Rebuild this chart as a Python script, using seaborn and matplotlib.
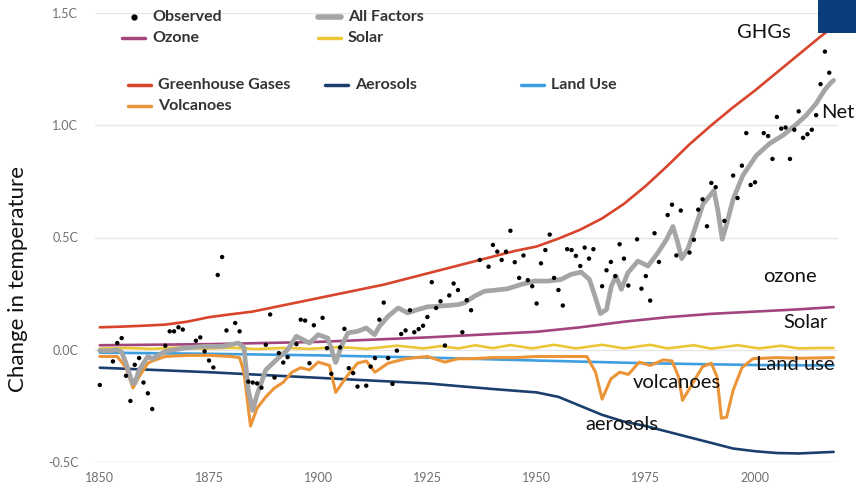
import numpy as np
import pandas as pd
import matplotlib
matplotlib.use("Agg")
import matplotlib.pyplot as plt
from matplotlib.lines import Line2D
from matplotlib.patches import Rectangle
import seaborn as sns

sns.set_theme(style="white")
plt.rcParams["font.family"] = ["Lato", "DejaVu Sans"]

# ── data ─────────────────────────────────────────────────────────────────────
obs_years = [1850, 1853, 1854, 1855, 1856, 1857, 1858, 1859, 1860, 1861, 1862,
             1865, 1866, 1867, 1868, 1869, 1872, 1873, 1874, 1875, 1876, 1877,
             1878, 1879, 1881, 1882, 1884, 1885, 1886, 1887, 1888, 1889, 1890,
             1891, 1892, 1893, 1895, 1896, 1897, 1898, 1899, 1901, 1902, 1903,
             1905, 1906, 1907, 1908, 1909, 1911, 1912, 1913, 1914, 1915, 1916,
             1917, 1918, 1919, 1920, 1921, 1922, 1923, 1924, 1925, 1926, 1927,
             1928, 1929, 1930, 1931, 1932, 1933, 1934, 1935, 1937, 1939, 1940,
             1941, 1942, 1943, 1944, 1945, 1946, 1947, 1948, 1949, 1950, 1951,
             1952, 1953, 1954, 1955, 1956, 1957, 1958, 1959, 1960, 1961, 1962,
             1963, 1965, 1966, 1967, 1968, 1969, 1970, 1971, 1973, 1974, 1975,
             1976, 1977, 1978, 1980, 1981, 1982, 1983, 1985, 1986, 1987, 1988,
             1989, 1990, 1991, 1993, 1995, 1996, 1997, 1998, 1999, 2000, 2002,
             2003, 2004, 2005, 2006, 2007, 2008, 2009, 2010, 2011, 2012, 2013,
             2014, 2015, 2016, 2017]
obs_vals = [-0.157, -0.052, 0.030, 0.052, -0.116, -0.228, -0.067, -0.037, -0.146, -0.194, -0.264,
            0.018, 0.082, 0.082, 0.100, 0.090, 0.040, 0.055, -0.007, -0.048, -0.079, 0.333,
            0.413, 0.086, 0.119, 0.082, -0.142, -0.146, -0.150, -0.169, 0.022, 0.157, -0.124,
            -0.015, -0.057, -0.033, 0.025, 0.134, 0.130, -0.060, 0.109, 0.142, 0.007, -0.107,
            0.010, 0.093, -0.082, -0.104, -0.164, -0.160, -0.075, -0.037, 0.134, 0.210, -0.037,
            -0.152, -0.004, 0.070, 0.086, 0.176, 0.078, 0.092, 0.107, 0.146, 0.301, 0.186,
            0.216, 0.019, 0.242, 0.295, 0.266, 0.078, 0.221, 0.176, 0.400, 0.370, 0.467,
            0.437, 0.400, 0.437, 0.530, 0.390, 0.320, 0.420, 0.310, 0.283, 0.206, 0.385,
            0.444, 0.513, 0.320, 0.266, 0.197, 0.448, 0.444, 0.418, 0.373, 0.455, 0.406,
            0.448, 0.283, 0.354, 0.391, 0.328, 0.470, 0.406, 0.286, 0.492, 0.272, 0.328,
            0.219, 0.519, 0.391, 0.600, 0.646, 0.420, 0.620, 0.433, 0.490, 0.624, 0.670,
            0.550, 0.743, 0.724, 0.574, 0.776, 0.676, 0.820, 0.965, 0.734, 0.746, 0.965,
            0.952, 0.850, 1.037, 0.985, 0.990, 0.850, 0.980, 1.062, 0.944, 0.960, 0.980,
            1.045, 1.183, 1.328, 1.234]

all_years = [1850, 1852, 1854, 1855, 1856, 1857.5, 1858, 1859, 1861, 1862, 1865,
             1869.5, 1874, 1878, 1881.7, 1883, 1884, 1885, 1886, 1888, 1890.4, 1893,
             1895, 1896.5, 1898, 1900, 1902.2, 1904, 1905.3, 1906.8, 1909, 1911,
             1912.9, 1914, 1916, 1918.3, 1920.5, 1922.8, 1925, 1927.4, 1929.7, 1932,
             1933.5, 1935.8, 1938.1, 1940.4, 1943.4, 1946.5, 1949.5, 1952.6, 1955.6,
             1957.9, 1960.2, 1962.1, 1963.5, 1964.6, 1966, 1967.1, 1968.2, 1969.4,
             1970.9, 1973.2, 1975.5, 1977.8, 1979.7, 1981.2, 1982.3, 1983.2, 1984.6,
             1986.2, 1988.1, 1990.6, 1991.5, 1992.5, 1993.4, 1995, 1997.2, 2000.3,
             2003.3, 2006.4, 2009.4, 2011.7, 2014, 2015.9, 2017.2, 2018]
all_vals = [-0.003, -0.005, 0.0, -0.01, -0.06, -0.15, -0.149, -0.09, -0.03, -0.04, -0.007,
            0.008, 0.015, 0.015, 0.03, 0.01, -0.18, -0.27, -0.2, -0.09, -0.045, 0.0,
            0.06, 0.045, 0.03, 0.067, 0.052, -0.057, 0.015, 0.075, 0.082, 0.097,
            0.067, 0.104, 0.149, 0.186, 0.164, 0.179, 0.191, 0.194, 0.197, 0.201,
            0.209, 0.239, 0.261, 0.265, 0.272, 0.291, 0.306, 0.306, 0.313,
            0.336, 0.346, 0.313, 0.23, 0.161, 0.179, 0.283, 0.328, 0.269,
            0.343, 0.395, 0.373, 0.433, 0.49, 0.549, 0.478, 0.406, 0.448,
            0.537, 0.649, 0.709, 0.62, 0.492, 0.552, 0.671, 0.776, 0.865,
            0.918, 0.955, 1.003, 1.044, 1.097, 1.156, 1.186, 1.20]

ghg_years = [1850, 1855, 1860, 1865, 1870, 1875, 1880, 1885, 1890, 1895, 1900, 1905,
             1910, 1915, 1920, 1925, 1930, 1935, 1940, 1945, 1950, 1955, 1960, 1965,
             1970, 1975, 1980, 1985, 1990, 1995, 2000, 2005, 2010, 2015, 2018]
ghg_vals = [0.10, 0.103, 0.107, 0.112, 0.125, 0.145, 0.158, 0.17, 0.19, 0.21, 0.23, 0.25,
            0.27, 0.29, 0.315, 0.34, 0.365, 0.39, 0.415, 0.44, 0.46, 0.495, 0.535, 0.585,
            0.65, 0.73, 0.82, 0.915, 1.0, 1.08, 1.155, 1.235, 1.315, 1.395, 1.44]

ozone_years = [1850, 1875, 1900, 1925, 1950, 1960, 1970, 1980, 1990, 2000, 2010, 2018]
ozone_vals = [0.02, 0.025, 0.035, 0.055, 0.08, 0.10, 0.125, 0.145, 0.16, 0.17, 0.18, 0.19]

solar_years = [1850, 1856, 1862, 1868, 1874, 1880, 1886, 1892, 1898, 1905, 1911, 1918,
               1924, 1928, 1932, 1936, 1940, 1944, 1949, 1954, 1959, 1965, 1970, 1976,
               1980, 1986, 1990, 1996, 2001, 2006, 2010, 2015, 2018]
solar_vals = [0.005, 0.008, 0.004, 0.01, 0.005, 0.009, 0.003, 0.008, 0.004, 0.012, 0.004, 0.018,
              0.006, 0.016, 0.006, 0.02, 0.007, 0.021, 0.006, 0.022, 0.006, 0.022, 0.006,
              0.022, 0.006, 0.02, 0.005, 0.02, 0.006, 0.018, 0.006, 0.008, 0.008]

land_years = [1850, 1875, 1900, 1925, 1950, 1975, 2000, 2018]
land_vals = [-0.013, -0.018, -0.025, -0.035, -0.048, -0.06, -0.068, -0.07]

aer_years = [1850, 1875, 1900, 1925, 1940, 1950, 1955, 1960, 1965, 1970, 1975, 1980,
             1985, 1990, 1995, 2000, 2005, 2010, 2018]
aer_vals = [-0.08, -0.10, -0.125, -0.15, -0.175, -0.19, -0.21, -0.25, -0.29, -0.32, -0.34,
            -0.365, -0.39, -0.415, -0.44, -0.452, -0.46, -0.462, -0.455]

volc_years = [1850, 1854, 1856, 1857.6, 1859, 1861, 1862, 1865, 1870, 1875, 1880, 1882,
              1883, 1884.5, 1886, 1888, 1890, 1892, 1894, 1896, 1898, 1900, 1902.6, 1904,
              1906.5, 1909, 1911, 1913, 1916, 1920, 1925, 1929, 1932, 1935, 1940, 1945,
              1950, 1955, 1961.5, 1963.5, 1965, 1967, 1969, 1971, 1973.5, 1976, 1979, 1981,
              1982.5, 1983.4, 1985.7, 1988, 1990, 1991.3, 1992.3, 1993.5, 1995, 1997,
              1999.5, 2005, 2010, 2018]
volc_vals = [-0.03, -0.03, -0.08, -0.17, -0.12, -0.06, -0.05, -0.03, -0.025, -0.025, -0.03, -0.035,
             -0.1, -0.34, -0.26, -0.21, -0.17, -0.145, -0.1, -0.08, -0.09, -0.055, -0.07, -0.19,
             -0.12, -0.06, -0.05, -0.1, -0.06, -0.04, -0.03, -0.055, -0.04, -0.04, -0.035, -0.035,
             -0.03, -0.03, -0.03, -0.1, -0.22, -0.13, -0.1, -0.11, -0.055, -0.07, -0.045, -0.05,
             -0.12, -0.225, -0.15, -0.075, -0.06, -0.12, -0.305, -0.3, -0.18, -0.08,
             -0.04, -0.035, -0.038, -0.035]

y_ticks = [-0.5, 0.0, 0.5, 1.0, 1.5]
y_ticklabels = ["-0.5C", "0.0C", "0.5C", "1.0C", "1.5C"]
x_ticks = [1850, 1875, 1900, 1925, 1950, 1975, 2000]

C_GHG = "#d8442c"
C_OZONE = "#a2457f"
C_SOLAR = "#ebc634"
C_LAND = "#3d9ee0"
C_AER = "#1b3f6d"
C_VOLC = "#ec9538"
C_ALL = "#a5a5a5"

# ── figure ───────────────────────────────────────────────────────────────────
fig = plt.figure(figsize=(8.56, 4.91), dpi=100)
ax = fig.add_axes([95 / 856, 1 - 462 / 491, 743 / 856, 449 / 491])

for y in y_ticks:
    ax.axhline(y, color="#ccd6eb" if y == -0.5 else "#e6e6e6", lw=1.0, zorder=0)

sns.lineplot(x=ghg_years, y=ghg_vals, color=C_GHG, lw=1.9, ax=ax, zorder=3)
sns.lineplot(x=ozone_years, y=ozone_vals, color=C_OZONE, lw=1.9, ax=ax, zorder=3)
sns.lineplot(x=solar_years, y=solar_vals, color=C_SOLAR, lw=1.9, ax=ax, zorder=3)
sns.lineplot(x=land_years, y=land_vals, color=C_LAND, lw=1.9, ax=ax, zorder=3)
sns.lineplot(x=aer_years, y=aer_vals, color=C_AER, lw=1.9, ax=ax, zorder=3)
sns.lineplot(x=volc_years, y=volc_vals, color=C_VOLC, lw=2.2, ax=ax, zorder=4)
sns.lineplot(x=all_years, y=all_vals, color=C_ALL, lw=3.4, ax=ax, zorder=5)
sns.scatterplot(x=obs_years, y=obs_vals, color="black", s=10, edgecolor="none", ax=ax, zorder=6)

ax.set_xlim(1848.9, 2019)
ax.set_ylim(-0.5, 1.5)
ax.set_yticks(y_ticks)
ax.set_yticklabels(y_ticklabels)
ax.set_xticks(x_ticks)
ax.tick_params(axis="y", length=0, pad=12, labelsize=9, labelcolor="#707070")
ax.tick_params(axis="x", length=0, pad=7, labelsize=9, labelcolor="#707070")
for s in ax.spines.values():
    s.set_visible(False)
ax.set_xlabel("")
ax.set_ylabel("")

fig.text(18 / 856, 1 - 279 / 491, "Change in temperature", rotation=90,
         ha="center", va="center", fontsize=16, color="#111111")

# annotations
notes = [("GHGs", 764, 33), ("Net", 838, 112), ("ozone", 790, 277), ("Solar", 806, 322),
         ("Land use", 795, 365), ("volcanoes", 677, 382), ("aerosols", 622, 425)]
for txt, px, py in notes:
    fig.text(px / 856, 1 - py / 491, txt, ha="center", va="center", fontsize=14.5, color="#111111")

# custom legend
leg = [("Observed", "dot", "black", 122, 17), ("All Factors", C_ALL, 4, 318, 17),
       ("Ozone", C_OZONE, 2.5, 122, 38), ("Solar", C_SOLAR, 2.5, 318, 38),
       ("Greenhouse Gases", C_GHG, 2.5, 128, 85), ("Aerosols", C_AER, 2.5, 325, 85),
       ("Land Use", C_LAND, 2.5, 521, 85), ("Volcanoes", C_VOLC, 2.5, 128, 106)]
for label, c, w, px, py in leg:
    fy = 1 - py / 491
    if c == "dot":
        fig.add_artist(Line2D([(px + 12) / 856], [fy], marker="o", ms=3.5, color="black", lw=0))
    else:
        fig.add_artist(Line2D([px / 856, (px + 23) / 856], [fy, fy], color=c, lw=w))
    fig.text((px + 30) / 856, fy, label, ha="left", va="center", fontsize=11.5,
             fontweight="bold", color="#333333")

fig.add_artist(Rectangle((818 / 856, 1 - 33 / 491), 38 / 856, 33 / 491,
                         transform=fig.transFigure, color="#0b3c7e", lw=0))

fig.savefig("out.png", dpi=100)
